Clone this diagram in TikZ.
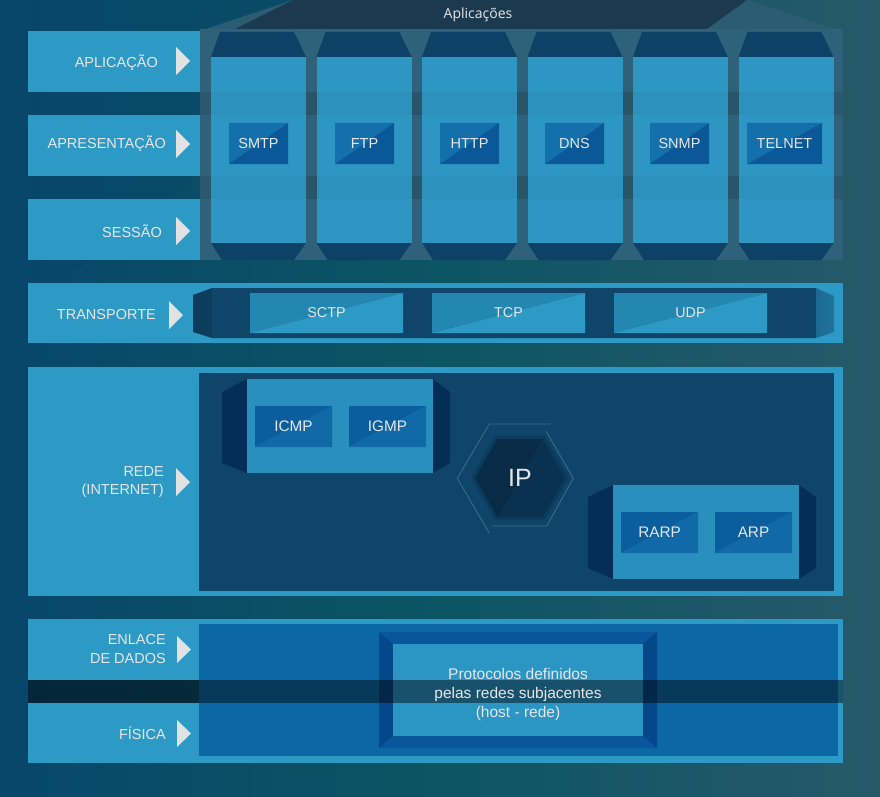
\documentclass[tikz,border=0pt]{standalone}
\usepackage{fontspec}
\setmainfont{Liberation Sans}
\newfontfamily\hdrfont{Open Sans}
\definecolor{bgL}{HTML}{08466A}
\definecolor{bgM}{HTML}{0C5563}
\definecolor{bgR}{HTML}{27596B}
\definecolor{lightbox}{HTML}{2D9AC6}
\definecolor{frameC}{HTML}{30617A}
\definecolor{roofC}{HTML}{2C5C71}
\definecolor{tabC}{HTML}{1B3A4F}
\definecolor{capC}{HTML}{0D4266}
\definecolor{colbody}{HTML}{2E96C2}
\definecolor{appUL}{HTML}{1470AA}
\definecolor{appLR}{HTML}{0A5898}
\definecolor{darkbar}{HTML}{0F4568}
\definecolor{bevelR}{HTML}{1C6A92}
\definecolor{trUL}{HTML}{2487B1}
\definecolor{trLR}{HTML}{2D9AC6}
\definecolor{grpbox}{HTML}{2990BD}
\definecolor{grpbevel}{HTML}{042E57}
\definecolor{netUL}{HTML}{0B5E9E}
\definecolor{netLR}{HTML}{1169A8}
\definecolor{hexline}{HTML}{3E6E8C}
\definecolor{hexmid}{HTML}{0B3B5D}
\definecolor{hexin}{HTML}{0A3150}
\definecolor{linkin}{HTML}{0B68A5}
\definecolor{frameT}{HTML}{0A569C}
\definecolor{frameS}{HTML}{04488A}
\definecolor{linklight}{HTML}{2B95C4}
\definecolor{txtC}{HTML}{E6E6E6}
\definecolor{tricol}{HTML}{E2E2E2}
\newcommand\tri[3]{\fill[tricol] (#1,#2) -- (#1+14,{(#2+#3)/2}) -- (#1,#3) -- cycle;}
\newcommand\tbox[8]{%
  \fill[#6] (#2,#3) -- (#4,#3) -- (#2,#5) -- cycle;
  \fill[#7] (#4,#3) -- (#4,#5) -- (#2,#5) -- cycle;
  \node[boxtxt] (#1) at ({(#2+#4)/2},{(#3+#5)/2}) {#8};}
\newcommand\appcol[2]{% #1 left x, #2 name
  \fill[capC] (#1+9,32) -- (#1+83,32) -- (#1+95,57) -- (#1,57) -- cycle;
  \fill[colbody] (#1,57) rectangle (#1+95,243);
  \fill[capC] (#1,243) -- (#1+95,243) -- (#1+83,260) -- (#1+11,260) -- cycle;
  \coordinate (#2) at (#1+47.5,150);}
\begin{document}
\begin{tikzpicture}[x=1pt,y=-1pt,
  lbl/.style={text=txtC,font=\fontsize{14.5}{18}\selectfont,anchor=east,align=right,inner sep=0pt},
  boxtxt/.style={text=txtC,font=\fontsize{14.5}{17}\selectfont,inner sep=0pt},
  trtxt/.style={text=txtC,font=\fontsize{14.3}{17}\selectfont,inner sep=0pt}]
\useasboundingbox (0,0) rectangle (880,797);
% background
\shade[left color=bgL,right color=bgR,middle color=bgM] (0,0) rectangle (880,797);
\fill[bgL,opacity=0.35] (0,0) -- (420,0) -- (0,330) -- cycle;
% ---------- application block ----------
\fill[roofC] (200,31) -- (293,0) -- (747,0) -- (843,31) -- cycle;
\fill[tabC] (235,29) -- (293,0) -- (747,0) -- (707,29) -- cycle;
\node[text=txtC,font=\hdrfont\fontsize{14}{16}\selectfont,inner sep=0pt] (hdr) at (478,15) {Aplicações};
\fill[frameC] (200,29) rectangle (843,260);
\fill[black,opacity=0.09] (200,92) rectangle (843,115);
\fill[black,opacity=0.09] (200,176) rectangle (843,199);
\foreach \x/\n in {211/c1,316.5/c2,422/c3,527.5/c4,633/c5,738.5/c6}{\appcol{\x}{\n}}
\fill[black,opacity=0.025] (211,92) rectangle (834,115);
\fill[black,opacity=0.025] (211,176) rectangle (834,199);
\tbox{smtp}{229}{123}{288}{164}{appUL}{appLR}{SMTP}
\tbox{ftp}{335}{123}{394}{164}{appUL}{appLR}{FTP}
\tbox{http}{440}{123}{499}{164}{appUL}{appLR}{HTTP}
\tbox{dns}{545}{123}{604}{164}{appUL}{appLR}{DNS}
\tbox{snmp}{650}{123}{709}{164}{appUL}{appLR}{SNMP}
\tbox{telnet}{747}{123}{822}{164}{appUL}{appLR}{TELNET}
% left labels
\fill[lightbox] (28,31) rectangle (200,92);
\fill[lightbox] (28,115) rectangle (200,176);
\fill[lightbox] (28,199) rectangle (200,260);
\node[lbl] (l1) at (158,63) {APLICAÇÃO};
\node[lbl] (l2) at (166,144) {APRESENTAÇÃO};
\node[lbl] (l3) at (162,231) {SESSÃO};
\tri{176}{47}{75}
\tri{176}{130}{158}
\tri{176}{217}{245}
% ---------- transport ----------
\fill[lightbox] (28,283) rectangle (843,343);
\fill[darkbar] (212,288) -- (816,288) -- (816,338) -- (212,338) -- (193,332) -- (193,295) -- cycle;
\fill[black,opacity=0.1] (212,288) -- (212,338) -- (193,332) -- (193,295) -- cycle;
\shade[left color=bevelR,right color=bevelR!80!lightbox] (816,288) -- (834,296) -- (834,332) -- (816,338) -- cycle;
\node[lbl] (l4) at (156,315) {TRANSPORTE};
\tri{169}{301}{329}
\fill[trUL] (250,293) -- (403,293) -- (250,333) -- cycle;
\fill[trLR] (403,293) -- (403,333) -- (250,333) -- cycle;
\node[trtxt] (sctp) at (326.5,313) {SCTP};
\fill[trUL] (432,293) -- (585,293) -- (432,333) -- cycle;
\fill[trLR] (585,293) -- (585,333) -- (432,333) -- cycle;
\node[trtxt] (tcp) at (508.5,313) {TCP};
\fill[trUL] (614,293) -- (767,293) -- (614,333) -- cycle;
\fill[trLR] (767,293) -- (767,333) -- (614,333) -- cycle;
\node[trtxt] (udp) at (690.5,313) {UDP};
% ---------- network ----------
\fill[lightbox] (28,367) rectangle (843,596);
\fill[darkbar] (199,373) rectangle (834,591);
\node[lbl] (l5) at (164,482) {REDE\\(INTERNET)};
\tri{176}{468}{496}
% ICMP group
\fill[grpbevel] (222,392) -- (247,379) -- (247,473) -- (222,463) -- cycle;
\fill[grpbevel] (433,379) -- (450,392) -- (450,463) -- (433,473) -- cycle;
\fill[grpbox] (247,379) rectangle (433,473);
\begin{scope}[boxtxt/.append style={font=\fontsize{15.3}{17}\selectfont}]
\tbox{icmp}{255}{406}{332}{447}{netUL}{netLR}{ICMP}
\tbox{igmp}{349}{406}{426}{447}{netUL}{netLR}{IGMP}
\end{scope}
% RARP group
\fill[grpbevel] (588,497) -- (613,485) -- (613,579) -- (588,568) -- cycle;
\fill[grpbevel] (799,485) -- (816,497) -- (816,568) -- (799,579) -- cycle;
\fill[grpbox] (613,485) rectangle (799,579);
\begin{scope}[boxtxt/.append style={font=\fontsize{15.3}{17}\selectfont}]
\tbox{rarp}{621}{512}{698}{553}{netUL}{netLR}{RARP}
\tbox{arp}{715}{512}{792}{553}{netUL}{netLR}{ARP}
\end{scope}
% IP hexagon
\fill[hexmid] (569,478) -- (544.5,435.6) -- (495.5,435.6) -- (471,478) -- (495.5,520.4) -- (544.5,520.4) -- cycle;
\fill[hexin] (565,478) -- (542.5,439) -- (497.5,439) -- (475,478) -- (497.5,517) -- (542.5,517) -- cycle;
\fill[black,opacity=0.12] (542.5,439) -- (497.5,439) -- (475,478) -- (497.5,517) -- cycle;
\draw[hexline,line width=0.8pt] (489.3,533.3) -- (457.3,478.3) -- (489.3,424) -- (551.7,424);
\draw[hexline,line width=0.8pt] (491.7,526) -- (546.7,526) -- (573.3,478.3) -- (546,431);
\node[text=txtC,font=\fontsize{25}{28}\selectfont,inner sep=0pt] (ip) at (520,478) {IP};
% ---------- link + physical ----------
\fill[lightbox] (28,619) rectangle (843,680);
\fill[lightbox] (28,703) rectangle (843,763);
\fill[lightbox] (199,680) rectangle (843,703);
\fill[linkin] (199,624) rectangle (838,756);
\fill[frameT] (379,632) -- (657,632) -- (642.5,644) -- (393,644) -- cycle;
\fill[frameT] (379,748) -- (657,748) -- (642.5,736) -- (393,736) -- cycle;
\fill[frameS] (379,632) -- (393,644) -- (393,736) -- (379,748) -- cycle;
\fill[frameS] (657,632) -- (642.5,644) -- (642.5,736) -- (657,748) -- cycle;
\fill[linklight] (393,644) rectangle (642.5,736);
\fill[black,opacity=0.45] (28,680) rectangle (843,703);
\node[text=txtC,font=\fontsize{15.5}{19}\selectfont,align=center,inner sep=0pt] (proto) at (518,694) {Protocolos definidos\\pelas redes subjacentes\\(host - rede)};
\node[lbl,font=\fontsize{14.5}{19}\selectfont] (l6) at (166,649) {ENLACE\\DE DADOS};
\tri{177}{636}{663}
\node[lbl] (l7) at (166,733) {FÍSICA};
\tri{177}{720}{747}
\end{tikzpicture}
\end{document}
